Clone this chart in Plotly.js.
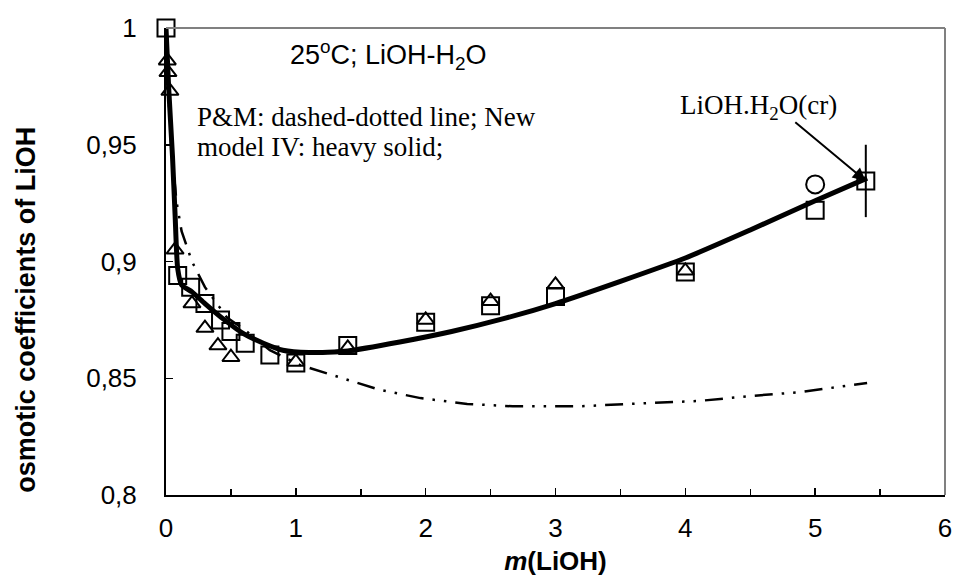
<!DOCTYPE html>
<html>
<head>
<meta charset="utf-8">
<script src="https://cdn.plot.ly/plotly-3.0.1.min.js"></script>
<style>html,body{margin:0;padding:0;background:#fff}#chart{width:955px;height:581px}</style>
</head>
<body>
<div id="chart"></div>
<script>
// Experimental points
var sqX = [0, 0.09, 0.19, 0.3, 0.42, 0.5, 0.61, 0.8, 1.0, 1.4, 2.0, 2.5, 3.0, 4.0, 5.0, 5.39];
var sqY = [1.0, 0.894, 0.889, 0.882, 0.875, 0.870, 0.865, 0.860, 0.8565, 0.864, 0.874, 0.881, 0.885, 0.8955, 0.922, 0.9345];
var sqErr = [0, 0, 0, 0, 0, 0, 0, 0, 0, 0, 0, 0, 0, 0, 0, 0.0155];

var triX = [0.01, 0.015, 0.03, 0.07, 0.2, 0.3, 0.4, 0.5, 1.0, 1.4, 2.0, 2.5, 3.0, 4.0];
var triY = [0.986, 0.981, 0.973, 0.905, 0.882, 0.8715, 0.864, 0.859, 0.857, 0.863, 0.875, 0.883, 0.890, 0.896];

var circX = [5.0];
var circY = [0.933];

// New model IV (heavy solid)
var solidX = [0, 0.02, 0.05, 0.07, 0.09, 0.12, 0.2, 0.3, 0.45, 0.6, 0.75, 0.9, 1.1, 1.4, 1.8, 2.2, 2.6, 3.0, 3.5, 4.0, 4.5, 5.0, 5.4];
var solidY = [1.0, 0.975, 0.945, 0.92, 0.897, 0.890, 0.887, 0.882, 0.875, 0.869, 0.865, 0.862, 0.861, 0.8617, 0.8655, 0.870, 0.8755, 0.882, 0.8915, 0.9015, 0.9135, 0.926, 0.9357];

// P&M (dashed-dotted)
var dashX = [0, 0.01, 0.04, 0.08, 0.12, 0.2, 0.3, 0.47, 0.6, 0.8, 1.03, 1.34, 1.65, 1.96, 2.32, 2.67, 3.19, 3.73, 4.11, 4.5, 4.88, 5.4];
var dashY = [1.0, 0.98, 0.95, 0.926, 0.913, 0.900, 0.889, 0.876, 0.871, 0.862, 0.8557, 0.8505, 0.845, 0.8415, 0.839, 0.838, 0.838, 0.8394, 0.8403, 0.8424, 0.844, 0.848];

var xTickVals = [0, 1, 2, 3, 4, 5, 6];
var xTickText = ['0', '1', '2', '3', '4', '5', '6'];
var yTickVals = [0.8, 0.85, 0.9, 0.95, 1];
var yTickText = ['0,8', '0,85', '0,9', '0,95', '1'];

var sans = 'Liberation Sans, Arial, sans-serif';
var serif = 'Liberation Serif, Times New Roman, serif';

var traces = [
  {x: dashX, y: dashY, mode: 'lines', line: {color: '#000', width: 2.5, dash: '18px,9px,2.5px,9px,2.5px,9px'}, showlegend: false, hoverinfo: 'skip'},
  {x: solidX, y: solidY, mode: 'lines', line: {color: '#000', width: 5, shape: 'spline', smoothing: 0.6}, showlegend: false},
  {x: triX, y: triY, mode: 'markers', cliponaxis: false, marker: {symbol: 'triangle-up-open', size: 15, color: '#000', line: {color: '#000', width: 2}}, showlegend: false},
  {x: sqX, y: sqY, mode: 'markers', cliponaxis: false, marker: {symbol: 'square-open', size: 17, color: '#000', line: {color: '#000', width: 2}},
   error_y: {type: 'data', array: sqErr, visible: true, color: '#000', thickness: 2, width: 0}, showlegend: false},
  {x: circX, y: circY, mode: 'markers', cliponaxis: false, marker: {symbol: 'circle-open', size: 18, color: '#000', line: {color: '#000', width: 2}}, showlegend: false}
];

var layout = {
  width: 955, height: 581,
  margin: {l: 166, r: 10, t: 28, b: 86},
  paper_bgcolor: '#fff', plot_bgcolor: '#fff',
  showlegend: false,
  font: {family: sans, color: '#000', size: 26},
  xaxis: {
    range: [0, 6], tickvals: xTickVals, ticktext: xTickText,
    ticks: 'inside', ticklen: 7, tickwidth: 1.5, tickcolor: '#000',
    minor: {dtick: 0.5, tick0: 0, ticks: 'inside', ticklen: 6, tickwidth: 1.5, tickcolor: '#000'},
    showline: true, linecolor: '#000', linewidth: 2, showgrid: false, zeroline: false,
    tickfont: {family: sans, size: 26, color: '#000'},
    ticklabelstandoff: 9,
    automargin: false,
    title: {text: '<b><i>m</i>(LiOH)</b>', font: {family: sans, size: 26, color: '#000'}, standoff: 10}
  },
  yaxis: {
    range: [0.8, 1], tickvals: yTickVals, ticktext: yTickText,
    ticks: 'inside', ticklen: 7, tickwidth: 1.5, tickcolor: '#000',
    showline: true, linecolor: '#000', linewidth: 2, showgrid: false, zeroline: false,
    tickfont: {family: sans, size: 26, color: '#000'},
    ticklabelstandoff: 22,
    automargin: false
  },
  shapes: [
    {type: 'line', xref: 'paper', yref: 'paper', x0: 0, x1: 1, y0: 1, y1: 1, line: {color: '#808080', width: 2}},
    {type: 'line', xref: 'paper', yref: 'paper', x0: 1, x1: 1, y0: 0, y1: 1, line: {color: '#808080', width: 2}}
  ],
  annotations: [
    {xref: 'paper', yref: 'paper', x: -0.18, y: 0.396, xanchor: 'center', yanchor: 'middle', showarrow: false, textangle: -90,
     text: '<b>osmotic coefficients of LiOH</b>', font: {family: sans, size: 27, color: '#000'}},
    {xref: 'paper', yref: 'paper', x: 0.286, y: 0.942, xanchor: 'center', yanchor: 'middle', showarrow: false,
     text: '25<sup>o</sup>C; LiOH-H<sub>2</sub>O', font: {family: sans, size: 27, color: '#000'}},
    {xref: 'paper', yref: 'paper', x: 0.037, y: 0.809, xanchor: 'left', yanchor: 'middle', showarrow: false, align: 'left',
     text: 'P&amp;M: dashed-dotted line; New', font: {family: serif, size: 27, color: '#000'}},
    {xref: 'paper', yref: 'paper', x: 0.037, y: 0.745, xanchor: 'left', yanchor: 'middle', showarrow: false, align: 'left',
     text: 'model IV: heavy solid;', font: {family: serif, size: 27, color: '#000'}},
    {xref: 'paper', yref: 'paper', x: 0.76, y: 0.831, xanchor: 'center', yanchor: 'middle', showarrow: false,
     text: 'LiOH.H<sub>2</sub>O(cr)', font: {family: serif, size: 27, color: '#000'}},
    {x: sqX[sqX.length - 1], y: sqY[sqY.length - 1], xref: 'x', yref: 'y', text: '', showarrow: true,
     ax: -72, ay: -60, arrowhead: 2, arrowsize: 1.3, arrowwidth: 2, arrowcolor: '#000'}
  ]
};

Plotly.newPlot('chart', traces, layout, {displayModeBar: false, staticPlot: true});
</script>
</body>
</html>
